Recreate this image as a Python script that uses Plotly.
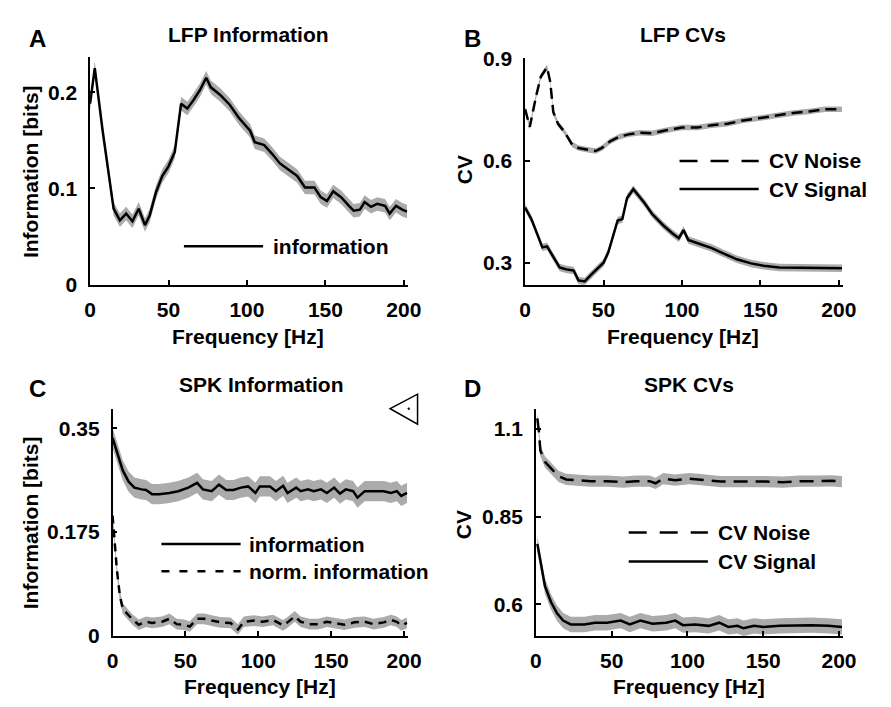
import plotly.graph_objects as go

W, H = 891, 707

# ---------------- data ----------------
# Panel A: LFP information
freq_a = [0, 3, 8, 15, 19, 23, 27, 31, 35, 38, 42, 46, 50, 54, 58, 62, 66, 70, 74, 77,
          83, 89, 95, 99, 102, 105, 111, 116, 121, 127, 132, 137, 143, 147, 151, 155, 160,
          165, 168, 172, 175, 179, 183, 188, 191, 195, 199, 202]
info_a = [0.188, 0.225, 0.16, 0.079, 0.067, 0.074, 0.066, 0.079, 0.062, 0.072, 0.096,
          0.113, 0.123, 0.138, 0.188, 0.183, 0.192, 0.202, 0.215, 0.205, 0.197, 0.187,
          0.173, 0.165, 0.16, 0.148, 0.145, 0.136, 0.126, 0.119, 0.113, 0.101, 0.101,
          0.091, 0.087, 0.097, 0.091, 0.082, 0.077, 0.078, 0.086, 0.081, 0.084, 0.082,
          0.074, 0.082, 0.078, 0.076]
err_a = 0.007

# Panel B: LFP CVs
freq_bn = [0, 3, 7, 10, 12, 14, 16, 18, 21, 25, 30, 34, 40, 45, 49, 54, 60, 66, 73, 81,
           90, 100, 110, 119, 129, 139, 150, 160, 171, 181, 191, 202]
noise_b = [0.751, 0.699, 0.789, 0.846, 0.86, 0.874, 0.832, 0.742, 0.708, 0.685, 0.647,
           0.637, 0.632, 0.628, 0.637, 0.656, 0.670, 0.677, 0.682, 0.68, 0.689, 0.697,
           0.697, 0.704, 0.708, 0.718, 0.725, 0.732, 0.74, 0.744, 0.751, 0.751]
err_bn = 0.008
freq_bs = [0, 4, 8, 11, 14, 18, 22, 26, 31, 34, 38, 42, 46, 50, 53, 56, 59, 62, 65, 69,
           72, 76, 81, 88, 94, 98, 101, 104, 110, 119, 127, 135, 144, 152, 162, 173, 183,
           193, 202]
signal_b = [0.462, 0.428, 0.381, 0.345, 0.348, 0.315, 0.286, 0.281, 0.277, 0.248, 0.245,
            0.264, 0.281, 0.30, 0.33, 0.381, 0.424, 0.428, 0.49, 0.516, 0.50, 0.476, 0.443,
            0.41, 0.386, 0.372, 0.396, 0.367, 0.357, 0.343, 0.326, 0.31, 0.298, 0.291,
            0.286, 0.286, 0.284, 0.286, 0.284]
err_bs = 0.011

# Panel C: SPK information
freq_ci = [0, 4, 7, 11, 15, 20, 23, 27, 32, 39, 45, 52, 58, 62, 68, 73, 78, 83, 88, 93,
           98, 101, 108, 112, 117, 120, 126, 129, 134, 138, 143, 147, 152, 156, 160, 165,
           168, 173, 179, 186, 191, 195, 198, 202]
info_c = [0.334, 0.301, 0.279, 0.26, 0.25, 0.247, 0.246, 0.239, 0.239, 0.241, 0.244,
          0.25, 0.258, 0.247, 0.244, 0.255, 0.246, 0.246, 0.25, 0.252, 0.241, 0.252, 0.252,
          0.244, 0.253, 0.241, 0.25, 0.244, 0.247, 0.244, 0.247, 0.241, 0.25, 0.24, 0.247,
          0.244, 0.233, 0.244, 0.244, 0.244, 0.241, 0.244, 0.236, 0.241]
err_ci = 0.017
freq_cn = [0, 1, 3, 5, 7, 11, 14, 18, 23, 27, 34, 39, 44, 49, 53, 58, 63, 68, 74, 81, 86,
           90, 97, 103, 110, 117, 120, 125, 129, 135, 141, 147, 153, 159, 166, 173, 179,
           186, 191, 195, 198, 202]
norm_c = [0.203, 0.171, 0.111, 0.068, 0.046, 0.035, 0.027, 0.019, 0.024, 0.022, 0.024,
          0.029, 0.02, 0.019, 0.016, 0.029, 0.029, 0.026, 0.023, 0.022, 0.011, 0.024,
          0.026, 0.024, 0.027, 0.018, 0.023, 0.033, 0.024, 0.02, 0.02, 0.024, 0.022, 0.019,
          0.023, 0.024, 0.02, 0.023, 0.027, 0.024, 0.018, 0.022]
err_cn = 0.009

# Panel D: SPK CVs
freq_dn = [1, 2, 3, 6, 11, 15, 20, 28, 36, 47, 58, 66, 75, 79, 84, 92, 101, 107, 114, 122,
           131, 142, 152, 163, 174, 185, 195, 202]
noise_d = [1.13, 1.094, 1.038, 1.006, 0.983, 0.965, 0.956, 0.953, 0.951, 0.951, 0.948,
           0.951, 0.951, 0.945, 0.958, 0.954, 0.958, 0.956, 0.954, 0.95, 0.95, 0.951, 0.95,
           0.948, 0.951, 0.951, 0.952, 0.95]
err_dn = 0.016
freq_ds = [1, 3, 6, 10, 14, 18, 23, 32, 39, 47, 56, 62, 69, 77, 86, 92, 97, 105, 114, 121,
           127, 133, 137, 144, 150, 161, 172, 182, 193, 202]
signal_d = [0.772, 0.726, 0.652, 0.606, 0.574, 0.553, 0.542, 0.542, 0.547, 0.547, 0.553,
            0.542, 0.553, 0.544, 0.547, 0.553, 0.54, 0.542, 0.538, 0.547, 0.535, 0.538,
            0.531, 0.538, 0.535, 0.538, 0.54, 0.54, 0.538, 0.535]
err_ds = 0.022

# ticks
x_ticks = [0, 50, 100, 150, 200]
x_tick_labels = ["0", "50", "100", "150", "200"]
ya_ticks = [0, 0.1, 0.2]
ya_labels = ["0", "0.1", "0.2"]
yb_ticks = [0.3, 0.6, 0.9]
yb_labels = ["0.3", "0.6", "0.9"]
yc_ticks = [0, 0.175, 0.35]
yc_labels = ["0", "0.175", "0.35"]
yd_ticks = [0.6, 0.85, 1.1]
yd_labels = ["0.6", "0.85", "1.1"]

# ---------------- figure ----------------
FONT = "Liberation Sans, Arial, Helvetica, sans-serif"
BAND = "#ababab"
fig = go.Figure()


def add_series(x, y, err, axis_n, dash="solid"):
    xa = "x" if axis_n == 1 else f"x{axis_n}"
    ya = "y" if axis_n == 1 else f"y{axis_n}"
    up = [v + err for v in y]
    lo = [v - err for v in y]
    fig.add_trace(go.Scatter(x=x, y=up, xaxis=xa, yaxis=ya, mode="lines",
                             line=dict(width=0, color=BAND), showlegend=False,
                             hoverinfo="skip"))
    fig.add_trace(go.Scatter(x=x, y=lo, xaxis=xa, yaxis=ya, mode="lines",
                             line=dict(width=0, color=BAND), fill="tonexty",
                             fillcolor=BAND, showlegend=False, hoverinfo="skip"))
    fig.add_trace(go.Scatter(x=x, y=y, xaxis=xa, yaxis=ya, mode="lines",
                             line=dict(width=2.5, color="black", dash=dash),
                             showlegend=False))


add_series(freq_a, info_a, err_a, 1)
add_series(freq_bn, noise_b, err_bn, 2, dash="11px,6px")
add_series(freq_bs, signal_b, err_bs, 2)
add_series(freq_ci, info_c, err_ci, 3)
add_series(freq_cn, norm_c, err_cn, 3, dash="8px,6px")
add_series(freq_dn, noise_d, err_dn, 4, dash="14px,8px")
add_series(freq_ds, signal_d, err_ds, 4)


def px(x):
    return x / W


def py(y):
    return 1 - y / H


tickfont = dict(family=FONT, size=21, color="black", weight="bold")
axis_common = dict(showline=True, linecolor="black", linewidth=1.5, showgrid=False,
                   zeroline=False, ticks="inside", ticklen=5, tickwidth=1.5,
                   tickcolor="black", tickfont=tickfont, mirror=False)

panels = {
    1: dict(xd=[px(86), px(411)], yd=[py(282), py(47)], yr=[0, 0.236],
            yt=ya_ticks, yl=ya_labels),
    2: dict(xd=[px(531), px(856)], yd=[py(282), py(48)], yr=[0.235, 0.9],
            yt=yb_ticks, yl=yb_labels),
    3: dict(xd=[px(109), px(411)], yd=[py(645), py(410)], yr=[0, 0.383],
            yt=yc_ticks, yl=yc_labels),
    4: dict(xd=[px(542), px(856)], yd=[py(645), py(410)], yr=[0.509, 1.158],
            yt=yd_ticks, yl=yd_labels),
}
layout_axes = {}
for n, p in panels.items():
    xk = "xaxis" if n == 1 else f"xaxis{n}"
    yk = "yaxis" if n == 1 else f"yaxis{n}"
    ya_name = "y" if n == 1 else f"y{n}"
    xa_name = "x" if n == 1 else f"x{n}"
    layout_axes[xk] = dict(axis_common, domain=p["xd"], range=[0, 202.5],
                           tickvals=x_ticks, ticktext=x_tick_labels, anchor=ya_name,
                           ticklabelstandoff=5)
    layout_axes[yk] = dict(axis_common, domain=p["yd"], range=p["yr"],
                           tickvals=p["yt"], ticktext=p["yl"], anchor=xa_name,
                           ticklabelstandoff=7)

fig.update_layout(width=W, height=H, margin=dict(l=0, r=0, t=0, b=0),
                  paper_bgcolor="white", plot_bgcolor="white", showlegend=False,
                  **layout_axes)

annotations = []


def ann(text, x, y, size=21, angle=0, xanchor="center"):
    annotations.append(dict(text=text, x=px(x), y=py(y), xref="paper", yref="paper",
                            showarrow=False, xanchor=xanchor, yanchor="middle",
                            textangle=angle, borderpad=0,
                            font=dict(family=FONT, size=size, color="black",
                                      weight="bold")))


# panel titles
ann("LFP Information", 248, 23)
ann("LFP CVs", 693, 23)
ann("SPK Information", 261, 385)
ann("SPK CVs", 699, 385)
# panel letters
ann("A", 32, 27, size=24)
ann("B", 477, 27, size=24)
ann("C", 32, 389, size=24)
ann("D", 477, 389, size=24)
# axis titles
ann("Frequency [Hz]", 248, 335)
ann("Frequency [Hz]", 693, 335)
ann("Frequency [Hz]", 260, 697)
ann("Frequency [Hz]", 699, 697)
ann("Information [bits]", 25, 165, angle=-90)
ann("CV", 469, 163, angle=-90)
ann("Information [bits]", 25, 528, angle=-90)
ann("CV", 468, 530, angle=-90)
# legend texts
ann("information", 272, 242, xanchor="left")
ann("CV Noise", 779, 154, xanchor="left")
ann("CV Signal", 779, 183, xanchor="left")
ann("information", 248, 550, xanchor="left")
ann("norm. information", 248, 578, xanchor="left")
ann("CV Noise", 727, 538, xanchor="left")
ann("CV Signal", 727, 568, xanchor="left")

shapes = []


def leg_line(x0, x1, y, dash="solid"):
    shapes.append(dict(type="line", xref="paper", yref="paper", x0=px(x0), x1=px(x1),
                       y0=py(y), y1=py(y), line=dict(color="black", width=2.5, dash=dash)))


leg_line(182, 263, 242)
leg_line(689, 770, 154, dash="18px,13px")
leg_line(689, 770, 183)
leg_line(159, 240, 550)
leg_line(159, 240, 578, dash="8px,10px")
leg_line(637, 718, 538, dash="18px,13px")
leg_line(637, 718, 568)

# triangle glyph in panel C
shapes.append(dict(type="path", xref="paper", yref="paper",
                   path=f"M {px(393)} {py(410)} L {px(421)} {py(395)} L {px(421)} {py(426)} Z",
                   line=dict(color="black", width=1.5), fillcolor="rgba(0,0,0,0)"))
shapes.append(dict(type="circle", xref="paper", yref="paper",
                   x0=px(411), x1=px(413), y0=py(411), y1=py(409),
                   line=dict(color="black", width=0.5), fillcolor="black"))

fig.update_layout(annotations=annotations, shapes=shapes)

fig.write_html("out.html")
